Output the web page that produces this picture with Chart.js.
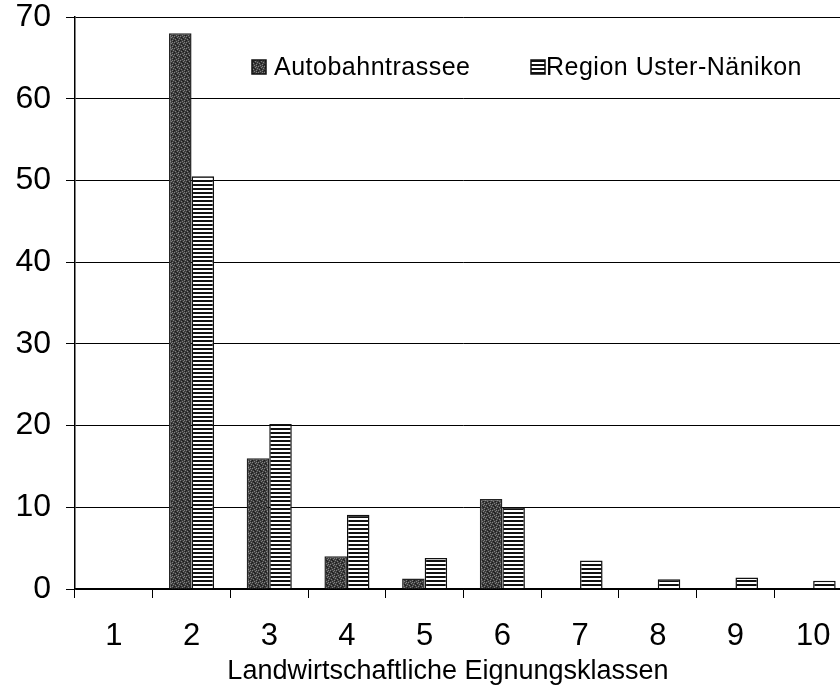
<!DOCTYPE html>
<html><head><meta charset="utf-8">
<script src="https://cdn.jsdelivr.net/npm/chart.js@4/dist/chart.umd.min.js"></script>
<style>html,body{margin:0;padding:0;background:#fff;overflow:hidden;width:840px;height:688px}canvas{display:block}</style>
</head><body>
<canvas id="c" width="862" height="688"></canvas>
<script>
const categories = ['1','2','3','4','5','6','7','8','9','10'];
const seriesNames = ['Autobahntrassee','Region Uster-Nänikon'];
const autobahn = [0, 68, 16, 4, 1.3, 11, 0, 0, 0, 0];
const region   = [0, 50.5, 20.2, 9.1, 3.8, 10, 3.5, 1.2, 1.4, 1.0];
const yTicks = [0, 10, 20, 30, 40, 50, 60, 70];
const xTitle = 'Landwirtschaftliche Eignungsklassen';

const FONT = '"Liberation Sans", Arial, Helvetica, sans-serif';
const canvas = document.getElementById('c');
const mainCtx = canvas.getContext('2d');

function stipplePattern(){
  const c = document.createElement('canvas'); c.width = 6; c.height = 6;
  const x = c.getContext('2d');
  x.fillStyle = '#3c3c3c'; x.fillRect(0,0,6,6);
  x.fillStyle = '#808080';
  [[0,0],[3,1],[1,3],[4,4],[2,5],[5,2],[4,0]].forEach(([a,b])=>x.fillRect(a,b,1,1));
  x.fillStyle = '#1c1c1c';
  [[2,2],[5,5],[0,4],[3,3],[1,1]].forEach(([a,b])=>x.fillRect(a,b,1,1));
  return mainCtx.createPattern(c,'repeat');
}
function hatchPattern(){
  const c = document.createElement('canvas'); c.width = 4; c.height = 4;
  const x = c.getContext('2d');
  x.fillStyle = '#fff'; x.fillRect(0,0,4,4);
  x.fillStyle = '#111'; x.fillRect(0,0,4,2);
  return mainCtx.createPattern(c,'repeat');
}

const overlay = {
  id: 'overlay',
  afterDraw(chart){
    const ctx = chart.ctx, a = chart.chartArea;
    ctx.save();
    ctx.font = '25px ' + FONT;
    ctx.textBaseline = 'middle';
    ctx.textAlign = 'left';
    try { ctx.letterSpacing = '0.5px'; } catch(e) {}
    const ly = a.top + 50;
    const boxX = [a.left + 177, a.left + 456];
    const textX = [a.left + 199, a.left + 471];
    chart.data.datasets.forEach((ds, i) => {
      const x = boxX[i];
      ctx.fillStyle = ds.backgroundColor;
      ctx.fillRect(x, ly - 7, 14, 14);
      ctx.lineWidth = 1.5; ctx.strokeStyle = '#111';
      ctx.strokeRect(x, ly - 7, 14, 14);
      ctx.fillStyle = '#000';
      ctx.fillText(ds.label, textX[i], ly + 1);
    });
    try { ctx.letterSpacing = '0px'; } catch(e) {}
    ctx.font = '27px ' + FONT;
    ctx.textAlign = 'center';
    ctx.fillText(xTitle, a.left + 373, chart.height - 16);
    ctx.restore();
  }
};

new Chart(canvas, {
  type: 'bar',
  data: {
    labels: categories,
    datasets: [
      { label: seriesNames[0], data: autobahn, backgroundColor: stipplePattern(), borderColor: '#222', borderWidth: 1.5, borderSkipped: 'bottom' },
      { label: seriesNames[1], data: region, backgroundColor: hatchPattern(), borderColor: '#111', borderWidth: 1.5, borderSkipped: 'bottom' }
    ]
  },
  options: {
    responsive: false,
    animation: false,
    devicePixelRatio: 1,
    layout: { padding: { top: 17, right: 10, left: 0, bottom: 0 } },
    datasets: { bar: { categoryPercentage: 0.58, barPercentage: 1.0 } },
    plugins: { legend: { display: false }, tooltip: { enabled: false }, title: { display: false } },
    scales: {
      x: {
        type: 'category',
        offset: true,
        grid: { display: true, drawOnChartArea: false, drawTicks: true, tickLength: 9, color: '#000', lineWidth: 1, offset: true },
        border: { display: true, color: '#000', width: 1.5 },
        ticks: { color: '#000', font: { size: 31, family: FONT, lineHeight: 1 }, padding: 23, maxRotation: 0, autoSkip: false },
        afterFit(s){ s.height = 99; s.paddingLeft = 0; s.paddingRight = 0; }
      },
      y: {
        min: 0, max: 70,
        afterBuildTicks(s){ s.ticks = yTicks.map(v => ({ value: v })); },
        grid: { color: '#000', lineWidth: 1, tickLength: 9, drawTicks: true },
        border: { display: true, color: '#000', width: 1.5 },
        ticks: { color: '#000', font: { size: 32, family: FONT, lineHeight: 1 }, padding: 15 },
        afterFit(s){ s.width = 75; s.paddingTop = 0; s.paddingBottom = 0; }
      }
    }
  },
  plugins: [overlay]
});
</script>
</body></html>
